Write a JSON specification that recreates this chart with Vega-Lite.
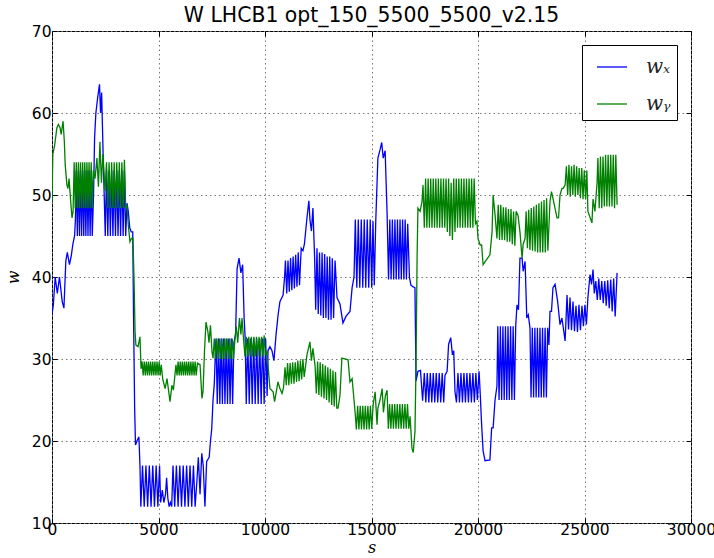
{
  "$schema": "https://vega.github.io/schema/vega-lite/v6.json",
  "width": 639,
  "height": 492,
  "autosize": "none",
  "padding": {"left": 52, "top": 31, "right": 23, "bottom": 35},
  "title": {"text": "W LHCB1 opt_150_5500_5500_v2.15", "font": "DejaVu Sans", "fontSize": 20.4, "fontWeight": "normal", "color": "#000", "anchor": "middle", "offset": -2},
  "config": {
    "view": {"stroke": "#000", "strokeWidth": 1},
    "axis": {"domain": false, "tickColor": "#000", "tickSize": -5, "tickWidth": 1, "labelFont": "DejaVu Sans", "labelFontSize": 15.5, "labelColor": "#000", "gridColor": "#777", "gridDash": [1.5, 3], "gridWidth": 1, "labelOverlap": false, "labelBound": false, "labelFlush": false, "titleFont": "DejaVu Serif", "titleFontStyle": "italic", "titleFontWeight": "normal", "titleFontSize": 16, "titleColor": "#000"}
  },
  "datasets": {
    "wx": [
      {"s":0,"w":35.5},{"s":60,"w":36.5},{"s":150,"w":40},{"s":250,"w":38},{"s":350,"w":40},{"s":480,"w":37},{"s":560,"w":36.2},{"s":650,"w":42},{"s":720,"w":43},{"s":820,"w":41.5},{"s":900,"w":42.5},{"s":980,"w":44},{"s":1060,"w":45},{"s":1100,"w":47},
      {"s":1140,"w":53},{"s":1190,"w":45},{"s":1240,"w":53},{"s":1290,"w":45},{"s":1340,"w":53},{"s":1390,"w":45},{"s":1440,"w":53},{"s":1490,"w":45},{"s":1540,"w":53},{"s":1590,"w":45},{"s":1640,"w":53},{"s":1690,"w":45},{"s":1740,"w":53},{"s":1790,"w":45},{"s":1840,"w":53},{"s":1890,"w":45},
      {"s":1950,"w":50},{"s":2000,"w":57},{"s":2060,"w":60},{"s":2150,"w":62},{"s":2230,"w":63.5},{"s":2280,"w":60},{"s":2330,"w":62.5},{"s":2400,"w":55},{"s":2450,"w":50},{"s":2500,"w":45},
      {"s":2560,"w":53},{"s":2620,"w":45},{"s":2680,"w":53},{"s":2740,"w":45},{"s":2800,"w":53},{"s":2860,"w":45},{"s":2920,"w":53},{"s":2980,"w":45},{"s":3040,"w":53},{"s":3100,"w":45},{"s":3160,"w":53},{"s":3220,"w":45},{"s":3280,"w":53},{"s":3340,"w":45},{"s":3400,"w":53},{"s":3460,"w":45},{"s":3520,"w":49},
      {"s":3580,"w":48},{"s":3650,"w":46},{"s":3720,"w":45.5},{"s":3790,"w":45.5},{"s":3830,"w":35},{"s":3880,"w":24},{"s":3920,"w":19.5},{"s":3990,"w":20},{"s":4080,"w":20.5},{"s":4130,"w":17},
      {"s":4170,"w":12},{"s":4250,"w":17},{"s":4330,"w":12},{"s":4410,"w":17},{"s":4490,"w":12},{"s":4570,"w":17},{"s":4650,"w":12},{"s":4730,"w":17},{"s":4810,"w":12},{"s":4890,"w":17},{"s":4970,"w":12},{"s":5050,"w":17},{"s":5100,"w":12.5},
      {"s":5180,"w":14},{"s":5250,"w":12.5},{"s":5330,"w":13.5},{"s":5380,"w":15.5},{"s":5440,"w":13},{"s":5500,"w":12},{"s":5560,"w":12.5},{"s":5620,"w":12},
      {"s":5680,"w":17},{"s":5760,"w":12},{"s":5840,"w":17},{"s":5920,"w":12},{"s":6000,"w":17},{"s":6080,"w":12},{"s":6160,"w":17},{"s":6240,"w":12},{"s":6320,"w":17},{"s":6400,"w":12},{"s":6480,"w":17},{"s":6560,"w":12},{"s":6640,"w":17},{"s":6720,"w":12},
      {"s":6800,"w":15},{"s":6870,"w":18},{"s":6950,"w":13.5},{"s":7030,"w":18.5},{"s":7100,"w":17},{"s":7180,"w":12},{"s":7260,"w":17.5},{"s":7380,"w":18},{"s":7440,"w":20},{"s":7500,"w":21.5},{"s":7560,"w":25},{"s":7620,"w":27},{"s":7660,"w":30},
      {"s":7700,"w":32.5},{"s":7760,"w":24.5},{"s":7820,"w":32.5},{"s":7880,"w":24.5},{"s":7940,"w":32.5},{"s":8000,"w":24.5},{"s":8060,"w":32.5},{"s":8120,"w":24.5},{"s":8180,"w":32.5},{"s":8240,"w":24.5},{"s":8300,"w":32.5},{"s":8360,"w":24.5},{"s":8420,"w":32.5},{"s":8480,"w":24.5},{"s":8540,"w":32},
      {"s":8620,"w":33},{"s":8690,"w":41},{"s":8780,"w":42.3},{"s":8870,"w":40.5},{"s":8950,"w":41.5},{"s":9020,"w":35},{"s":9070,"w":32.5},
      {"s":9120,"w":24.5},{"s":9190,"w":32.5},{"s":9260,"w":24.5},{"s":9330,"w":32.5},{"s":9400,"w":24.5},{"s":9470,"w":32.5},{"s":9540,"w":24.5},{"s":9610,"w":32.5},{"s":9680,"w":24.5},{"s":9750,"w":32.5},{"s":9820,"w":24.5},{"s":9890,"w":32.5},{"s":9960,"w":24.5},{"s":10030,"w":32.5},{"s":10100,"w":25.5},{"s":10140,"w":31},
      {"s":10230,"w":31.5},{"s":10330,"w":31},{"s":10420,"w":29.8},{"s":10520,"w":33},{"s":10620,"w":35.5},{"s":10700,"w":37},{"s":10850,"w":37.8},{"s":10920,"w":40},
      {"s":10960,"w":42},{"s":11020,"w":38},{"s":11080,"w":42},{"s":11140,"w":38.2},{"s":11200,"w":42.3},{"s":11260,"w":38.4},{"s":11320,"w":42.5},{"s":11380,"w":38.6},{"s":11440,"w":42.7},{"s":11500,"w":38.8},{"s":11560,"w":43},{"s":11620,"w":39},{"s":11700,"w":43.5},{"s":11780,"w":43.2},
      {"s":11850,"w":44},{"s":11970,"w":47.2},{"s":12060,"w":49.3},{"s":12110,"w":47},{"s":12180,"w":45.6},{"s":12250,"w":48.4},{"s":12330,"w":42.3},
      {"s":12380,"w":36},{"s":12440,"w":43.5},{"s":12500,"w":35.5},{"s":12560,"w":43},{"s":12620,"w":35.3},{"s":12680,"w":43},{"s":12740,"w":35},{"s":12800,"w":42.8},{"s":12860,"w":35},{"s":12920,"w":42.5},{"s":12980,"w":34.8},{"s":13040,"w":42.5},{"s":13100,"w":34.8},{"s":13160,"w":42.3},{"s":13220,"w":35},{"s":13290,"w":42},
      {"s":13380,"w":37.5},{"s":13520,"w":36.7},{"s":13660,"w":34.4},{"s":13800,"w":35.2},{"s":13990,"w":35.8},{"s":14090,"w":38.7},{"s":14180,"w":40},
      {"s":14240,"w":47},{"s":14310,"w":38.7},{"s":14380,"w":47},{"s":14450,"w":38.7},{"s":14520,"w":47},{"s":14590,"w":38.7},{"s":14660,"w":47},{"s":14730,"w":38.7},{"s":14800,"w":47},{"s":14870,"w":38.7},{"s":14940,"w":47},{"s":15010,"w":38.7},{"s":15070,"w":46.8},
      {"s":15130,"w":39},{"s":15200,"w":46.8},{"s":15300,"w":54.5},{"s":15400,"w":55.5},{"s":15480,"w":56.4},{"s":15550,"w":54.5},{"s":15640,"w":55.4},{"s":15730,"w":48},
      {"s":15800,"w":39.7},{"s":15860,"w":47},{"s":15920,"w":39.7},{"s":15980,"w":47},{"s":16040,"w":39.7},{"s":16100,"w":47},{"s":16160,"w":39.7},{"s":16220,"w":47},{"s":16280,"w":39.7},{"s":16340,"w":47},{"s":16400,"w":39.7},{"s":16460,"w":47},{"s":16520,"w":39.7},{"s":16580,"w":47},{"s":16640,"w":39.7},{"s":16700,"w":46.5},
      {"s":16780,"w":40},{"s":16850,"w":39},{"s":16960,"w":38.8},{"s":17040,"w":38.7},{"s":17090,"w":27.3},{"s":17180,"w":28.5},{"s":17300,"w":28.6},{"s":17400,"w":24.9},
      {"s":17480,"w":28.3},{"s":17550,"w":24.7},{"s":17620,"w":28.3},{"s":17690,"w":24.7},{"s":17760,"w":28.3},{"s":17830,"w":24.7},{"s":17900,"w":28.3},{"s":17970,"w":24.7},{"s":18040,"w":28.3},{"s":18110,"w":24.7},{"s":18180,"w":28.3},{"s":18250,"w":24.7},{"s":18320,"w":28.3},{"s":18390,"w":24.7},{"s":18450,"w":28},
      {"s":18550,"w":28.5},{"s":18620,"w":31.8},{"s":18720,"w":32.6},{"s":18800,"w":30.5},{"s":18860,"w":31},{"s":18920,"w":26},
      {"s":18990,"w":24.7},{"s":19060,"w":28.3},{"s":19130,"w":24.7},{"s":19200,"w":28.3},{"s":19270,"w":24.7},{"s":19340,"w":28.3},{"s":19410,"w":24.7},{"s":19480,"w":28.3},{"s":19550,"w":24.7},{"s":19620,"w":28.3},{"s":19690,"w":24.7},{"s":19760,"w":28.3},{"s":19830,"w":24.7},{"s":19900,"w":28.3},{"s":19970,"w":25},{"s":20050,"w":28.5},{"s":20100,"w":26},
      {"s":20170,"w":22},{"s":20240,"w":18.8},{"s":20330,"w":17.6},{"s":20560,"w":17.7},{"s":20640,"w":21.6},{"s":20710,"w":21.6},{"s":20800,"w":25},{"s":20890,"w":26.7},
      {"s":20930,"w":34},{"s":20990,"w":25},{"s":21050,"w":34},{"s":21110,"w":25},{"s":21170,"w":34},{"s":21230,"w":25},{"s":21290,"w":34},{"s":21350,"w":25},{"s":21410,"w":34},{"s":21470,"w":25},{"s":21530,"w":34},{"s":21590,"w":25},{"s":21650,"w":34},{"s":21710,"w":25},{"s":21770,"w":34},
      {"s":21830,"w":36.6},{"s":21900,"w":36},{"s":21970,"w":42.3},{"s":22070,"w":42.3},{"s":22120,"w":40.7},{"s":22210,"w":41.9},{"s":22290,"w":35},{"s":22360,"w":35.4},{"s":22440,"w":33.8},
      {"s":22490,"w":25.3},{"s":22550,"w":33.8},{"s":22610,"w":25.3},{"s":22670,"w":33.8},{"s":22730,"w":25.3},{"s":22790,"w":33.8},{"s":22850,"w":25.3},{"s":22910,"w":33.8},{"s":22970,"w":25.3},{"s":23030,"w":33.8},{"s":23090,"w":25.3},{"s":23150,"w":33.8},{"s":23210,"w":25.3},{"s":23270,"w":33.8},
      {"s":23330,"w":31.7},{"s":23380,"w":35.8},{"s":23450,"w":35.8},{"s":23520,"w":38.7},{"s":23620,"w":39.1},{"s":23740,"w":37},{"s":23850,"w":34.2},{"s":23940,"w":35},{"s":24090,"w":32.2},{"s":24180,"w":37.8},
      {"s":24250,"w":33.6},{"s":24320,"w":37.5},{"s":24390,"w":33.5},{"s":24460,"w":37},{"s":24530,"w":33.4},{"s":24600,"w":36.5},{"s":24670,"w":33.3},{"s":24740,"w":36.6},{"s":24810,"w":33.5},{"s":24880,"w":36.5},{"s":24950,"w":34},{"s":25020,"w":36.6},{"s":25090,"w":34.2},{"s":25160,"w":37.5},
      {"s":25260,"w":40.3},{"s":25330,"w":39.1},{"s":25400,"w":40.9},{"s":25460,"w":38},
      {"s":25530,"w":39.5},{"s":25600,"w":37.2},{"s":25670,"w":39.8},{"s":25740,"w":37.2},{"s":25810,"w":39.5},{"s":25880,"w":36.8},{"s":25950,"w":39.5},{"s":26020,"w":36.5},{"s":26090,"w":39.6},{"s":26160,"w":36.2},{"s":26230,"w":39.7},{"s":26300,"w":35.8},{"s":26370,"w":39.8},{"s":26440,"w":35.2},{"s":26530,"w":40.5}
    ],
    "wy": [
      {"s":0,"w":49},{"s":40,"w":55},{"s":120,"w":56},{"s":230,"w":58.2},{"s":300,"w":58.6},{"s":380,"w":58.2},{"s":430,"w":57.4},{"s":520,"w":59},{"s":580,"w":56.5},{"s":620,"w":53.7},{"s":700,"w":51.2},{"s":750,"w":50.8},{"s":800,"w":52},{"s":890,"w":48.8},{"s":940,"w":47.2},{"s":990,"w":48},
      {"s":1040,"w":54},{"s":1090,"w":48.4},{"s":1140,"w":54},{"s":1190,"w":48.4},{"s":1240,"w":54},{"s":1290,"w":48.4},{"s":1340,"w":54},{"s":1390,"w":48.4},{"s":1440,"w":54},{"s":1490,"w":48.4},{"s":1540,"w":54},{"s":1590,"w":48.4},{"s":1640,"w":54},{"s":1690,"w":48.4},{"s":1740,"w":54},{"s":1790,"w":48.4},{"s":1840,"w":54},{"s":1890,"w":48.4},{"s":1940,"w":53},
      {"s":2020,"w":52},{"s":2110,"w":54.5},{"s":2180,"w":51},{"s":2250,"w":56.5},{"s":2320,"w":51.5},{"s":2390,"w":55},{"s":2490,"w":50.5},
      {"s":2560,"w":54},{"s":2620,"w":48.4},{"s":2680,"w":54},{"s":2740,"w":48.4},{"s":2800,"w":54},{"s":2860,"w":48.4},{"s":2920,"w":54},{"s":2980,"w":48.4},{"s":3040,"w":54},{"s":3100,"w":48.4},{"s":3160,"w":54},{"s":3220,"w":48.4},{"s":3280,"w":54},{"s":3340,"w":48.4},{"s":3400,"w":54.3},{"s":3460,"w":48.4},{"s":3520,"w":48.8},
      {"s":3580,"w":46.4},{"s":3660,"w":44.3},{"s":3730,"w":44.7},{"s":3800,"w":44.7},{"s":3850,"w":39.8},{"s":3900,"w":33.3},{"s":3940,"w":31.7},{"s":4040,"w":31.5},{"s":4130,"w":32.7},{"s":4180,"w":28.8},
      {"s":4230,"w":29.7},{"s":4280,"w":28},{"s":4330,"w":29.7},{"s":4380,"w":28},{"s":4430,"w":29.7},{"s":4480,"w":28},{"s":4530,"w":29.7},{"s":4580,"w":28},{"s":4630,"w":29.7},{"s":4680,"w":28},{"s":4730,"w":29.7},{"s":4780,"w":28},{"s":4830,"w":29.7},{"s":4880,"w":28},{"s":4930,"w":29.7},{"s":4980,"w":28},{"s":5030,"w":29.7},{"s":5080,"w":28},{"s":5130,"w":29.3},
      {"s":5200,"w":27.5},{"s":5310,"w":26.4},{"s":5400,"w":27.6},{"s":5540,"w":24.8},{"s":5630,"w":26.8},{"s":5700,"w":26.2},{"s":5820,"w":29.3},
      {"s":5870,"w":28},{"s":5920,"w":29.7},{"s":5970,"w":28},{"s":6020,"w":29.7},{"s":6070,"w":28},{"s":6120,"w":29.7},{"s":6170,"w":28},{"s":6220,"w":29.7},{"s":6270,"w":28},{"s":6320,"w":29.7},{"s":6370,"w":28},{"s":6420,"w":29.7},{"s":6470,"w":28},{"s":6520,"w":29.7},{"s":6570,"w":28},{"s":6620,"w":29.7},{"s":6670,"w":28},{"s":6720,"w":29.7},{"s":6770,"w":28},{"s":6830,"w":29.5},
      {"s":6950,"w":29.3},{"s":7040,"w":25.2},{"s":7090,"w":26},{"s":7160,"w":31},{"s":7230,"w":34.5},{"s":7320,"w":33.3},{"s":7370,"w":32},{"s":7440,"w":34.1},{"s":7510,"w":30.9},{"s":7560,"w":30.1},
      {"s":7620,"w":32.5},{"s":7680,"w":30},{"s":7740,"w":32.5},{"s":7800,"w":30},{"s":7860,"w":32.5},{"s":7920,"w":30},{"s":7980,"w":32.5},{"s":8040,"w":30},{"s":8100,"w":32.5},{"s":8160,"w":30},{"s":8220,"w":32.5},{"s":8280,"w":30},{"s":8340,"w":32.5},{"s":8400,"w":30},{"s":8460,"w":32.5},{"s":8520,"w":30},{"s":8590,"w":32.5},
      {"s":8650,"w":34},{"s":8720,"w":32},{"s":8800,"w":35},{"s":8870,"w":33},{"s":8920,"w":35},{"s":8990,"w":32.5},{"s":9060,"w":30.3},
      {"s":9120,"w":32.7},{"s":9180,"w":30.3},{"s":9240,"w":32.7},{"s":9300,"w":30.3},{"s":9360,"w":32.7},{"s":9420,"w":30.3},{"s":9480,"w":32.7},{"s":9540,"w":30.3},{"s":9600,"w":32.7},{"s":9660,"w":30.3},{"s":9720,"w":32.7},{"s":9780,"w":30.3},{"s":9840,"w":32.7},{"s":9900,"w":30.3},{"s":9960,"w":32.9},{"s":10020,"w":30.5},
      {"s":10090,"w":30.9},{"s":10230,"w":26.4},{"s":10380,"w":26},{"s":10450,"w":24.8},{"s":10610,"w":27.2},{"s":10700,"w":26.4},{"s":10800,"w":25.8},{"s":10870,"w":26.5},{"s":10940,"w":29},
      {"s":11000,"w":26.8},{"s":11060,"w":29.5},{"s":11120,"w":26.8},{"s":11180,"w":29.5},{"s":11240,"w":27},{"s":11300,"w":29.6},{"s":11360,"w":27},{"s":11420,"w":29.6},{"s":11480,"w":27.2},{"s":11540,"w":29.8},{"s":11600,"w":27.3},{"s":11660,"w":29.8},{"s":11720,"w":27.5},{"s":11780,"w":30},{"s":11840,"w":27.8},
      {"s":11970,"w":30.5},{"s":12110,"w":32.1},{"s":12180,"w":29.8},{"s":12250,"w":31.3},{"s":12350,"w":29.2},
      {"s":12410,"w":25.8},{"s":12470,"w":29.7},{"s":12530,"w":25.6},{"s":12590,"w":29.6},{"s":12650,"w":25.4},{"s":12710,"w":29.4},{"s":12770,"w":25.2},{"s":12830,"w":29.2},{"s":12890,"w":25},{"s":12950,"w":29},{"s":13010,"w":24.7},{"s":13070,"w":28.8},{"s":13130,"w":24.4},{"s":13190,"w":28.6},{"s":13250,"w":24.2},{"s":13310,"w":28.4},{"s":13370,"w":24},{"s":13430,"w":24},
      {"s":13520,"w":25.6},{"s":13610,"w":30.1},{"s":13900,"w":29.9},{"s":13990,"w":27.2},{"s":14090,"w":27.6},{"s":14230,"w":23.5},
      {"s":14290,"w":21.4},{"s":14350,"w":24.3},{"s":14410,"w":21.4},{"s":14470,"w":24.3},{"s":14530,"w":21.4},{"s":14590,"w":24.3},{"s":14650,"w":21.4},{"s":14710,"w":24.3},{"s":14770,"w":21.4},{"s":14830,"w":24.3},{"s":14890,"w":21.4},{"s":14950,"w":24.3},{"s":15010,"w":21.5},{"s":15080,"w":24.5},{"s":15170,"w":26},{"s":15260,"w":22},{"s":15300,"w":24},{"s":15400,"w":25},{"s":15500,"w":26.4},{"s":15560,"w":23.5},{"s":15650,"w":25.5},{"s":15730,"w":26.2},
      {"s":15790,"w":21.5},{"s":15850,"w":24.5},{"s":15910,"w":21.5},{"s":15970,"w":24.5},{"s":16030,"w":21.5},{"s":16090,"w":24.5},{"s":16150,"w":21.5},{"s":16210,"w":24.5},{"s":16270,"w":21.5},{"s":16330,"w":24.5},{"s":16390,"w":21.5},{"s":16450,"w":24.5},{"s":16510,"w":21.5},{"s":16570,"w":24.5},{"s":16630,"w":21.5},{"s":16690,"w":24.5},{"s":16750,"w":21.5},{"s":16810,"w":23},
      {"s":16900,"w":19.1},{"s":16960,"w":18.6},{"s":17040,"w":21.1},{"s":17090,"w":29.2},{"s":17140,"w":42.3},{"s":17180,"w":48.4},{"s":17280,"w":48},{"s":17370,"w":49.2},{"s":17420,"w":51.2},
      {"s":17480,"w":46},{"s":17540,"w":52},{"s":17600,"w":46},{"s":17660,"w":52},{"s":17720,"w":46},{"s":17780,"w":52},{"s":17840,"w":46},{"s":17900,"w":52},{"s":17960,"w":46},{"s":18020,"w":52},{"s":18080,"w":46},{"s":18140,"w":52},{"s":18200,"w":46},{"s":18260,"w":52},{"s":18320,"w":46},{"s":18380,"w":52},{"s":18440,"w":46},{"s":18500,"w":52},{"s":18560,"w":45.5},{"s":18620,"w":52},{"s":18680,"w":45},{"s":18740,"w":51.5},{"s":18800,"w":44.5},{"s":18860,"w":52},{"s":18920,"w":45.5},{"s":18980,"w":52},{"s":19040,"w":46},{"s":19100,"w":52},{"s":19160,"w":46},{"s":19220,"w":52},{"s":19280,"w":46},{"s":19340,"w":52},{"s":19400,"w":46},{"s":19460,"w":52},{"s":19520,"w":46},{"s":19580,"w":52},{"s":19640,"w":46},{"s":19700,"w":52},{"s":19760,"w":46},{"s":19820,"w":52},{"s":19880,"w":46.5},
      {"s":19950,"w":46.8},{"s":20000,"w":44.7},{"s":20100,"w":43.9},{"s":20170,"w":43.9},{"s":20240,"w":41.5},{"s":20560,"w":42.7},{"s":20660,"w":45.5},{"s":20710,"w":50},{"s":20800,"w":47.6},{"s":20890,"w":44.7},
      {"s":20950,"w":48.8},{"s":21010,"w":44.5},{"s":21070,"w":48.8},{"s":21130,"w":44.5},{"s":21190,"w":48.5},{"s":21250,"w":44.5},{"s":21310,"w":48.5},{"s":21370,"w":44.3},{"s":21430,"w":48.3},{"s":21490,"w":44.3},{"s":21550,"w":48.3},{"s":21610,"w":44},{"s":21670,"w":48},{"s":21730,"w":43.8},{"s":21790,"w":48},
      {"s":21880,"w":47.5},{"s":21970,"w":45.5},{"s":22070,"w":42.3},{"s":22120,"w":44},{"s":22210,"w":44.7},
      {"s":22260,"w":48},{"s":22320,"w":43.5},{"s":22380,"w":48.2},{"s":22440,"w":43.3},{"s":22500,"w":48.4},{"s":22560,"w":43.2},{"s":22620,"w":48.6},{"s":22680,"w":43.1},{"s":22740,"w":48.8},{"s":22800,"w":43},{"s":22860,"w":49},{"s":22920,"w":43},{"s":22980,"w":49.2},{"s":23040,"w":43},{"s":23100,"w":49.4},{"s":23160,"w":43},{"s":23220,"w":49.6},{"s":23280,"w":43.2},
      {"s":23380,"w":49.2},{"s":23450,"w":50.4},{"s":23520,"w":49.6},{"s":23710,"w":47.2},{"s":23780,"w":47.2},{"s":23850,"w":50},{"s":23940,"w":50.8},{"s":24000,"w":50.8},{"s":24090,"w":51.2},
      {"s":24150,"w":53.5},{"s":24210,"w":50},{"s":24270,"w":53.7},{"s":24330,"w":49.8},{"s":24390,"w":53.5},{"s":24450,"w":50},{"s":24510,"w":53.7},{"s":24570,"w":49.8},{"s":24630,"w":53.5},{"s":24690,"w":50},{"s":24750,"w":53.3},{"s":24810,"w":49.6},{"s":24870,"w":53.3},{"s":24930,"w":49.5},{"s":24990,"w":53},{"s":25050,"w":49.5},{"s":25110,"w":53},{"s":25160,"w":48},
      {"s":25350,"w":46.6},{"s":25400,"w":49.5},{"s":25490,"w":48},{"s":25590,"w":51.5},
      {"s":25630,"w":54.5},{"s":25690,"w":48.4},{"s":25750,"w":54.7},{"s":25810,"w":48.4},{"s":25870,"w":54.7},{"s":25930,"w":48.6},{"s":25990,"w":54.9},{"s":26050,"w":48.6},{"s":26110,"w":54.9},{"s":26170,"w":48.6},{"s":26230,"w":54.9},{"s":26290,"w":48.6},{"s":26350,"w":54.9},{"s":26410,"w":48.4},{"s":26470,"w":54.9},{"s":26530,"w":48.8}
    ]
  },
  "layer": [
    {
      "data": {"name": "wx"},
      "mark": {"type": "line", "strokeWidth": 1.3, "clip": true},
      "encoding": {
        "x": {"field": "s", "type": "quantitative", "scale": {"domain": [0, 30000], "nice": false},
              "axis": {"orient": "top", "values": [0, 5000, 10000, 15000, 20000, 25000, 30000], "labels": false, "grid": false, "title": null}},
        "y": {"field": "w", "type": "quantitative", "scale": {"domain": [10, 70], "nice": false, "zero": false},
              "axis": {"orient": "right", "values": [10, 20, 30, 40, 50, 60, 70], "labels": false, "grid": false, "title": null}},
        "color": {"datum": "wx", "type": "nominal",
                  "scale": {"domain": ["wx", "wy"], "range": ["#0000ff", "#008000"]},
                  "legend": {"title": null, "orient": "top-right", "offset": 14, "labelExpr": "datum.value == 'wx' ? 'wₓ' : 'wᵧ'",
                             "symbolType": "stroke", "symbolSize": 900, "symbolStrokeWidth": 1.3, "symbolOffset": 8, "labelFont": "DejaVu Serif", "labelFontStyle": "italic", "labelFontSize": 20, "labelColor": "#222", "labelOffset": 18,
                             "strokeColor": "#000", "fillColor": "#fff", "padding": 6, "rowPadding": 11, "cornerRadius": 0}}
      }
    },
    {
      "data": {"name": "wy"},
      "mark": {"type": "line", "strokeWidth": 1.3, "clip": true},
      "encoding": {
        "x": {"field": "s", "type": "quantitative",
              "axis": {"orient": "bottom", "values": [0, 5000, 10000, 15000, 20000, 25000, 30000], "format": "d", "grid": true, "title": "s", "labelPadding": 4, "titlePadding": 2}},
        "y": {"field": "w", "type": "quantitative",
              "axis": {"orient": "left", "values": [10, 20, 30, 40, 50, 60, 70], "format": "d", "grid": true, "title": "w", "labelPadding": 6, "titlePadding": 10}},
        "color": {"datum": "wy", "type": "nominal"}
      }
    }
  ],
  "resolve": {"axis": {"x": "independent", "y": "independent"}}
}
